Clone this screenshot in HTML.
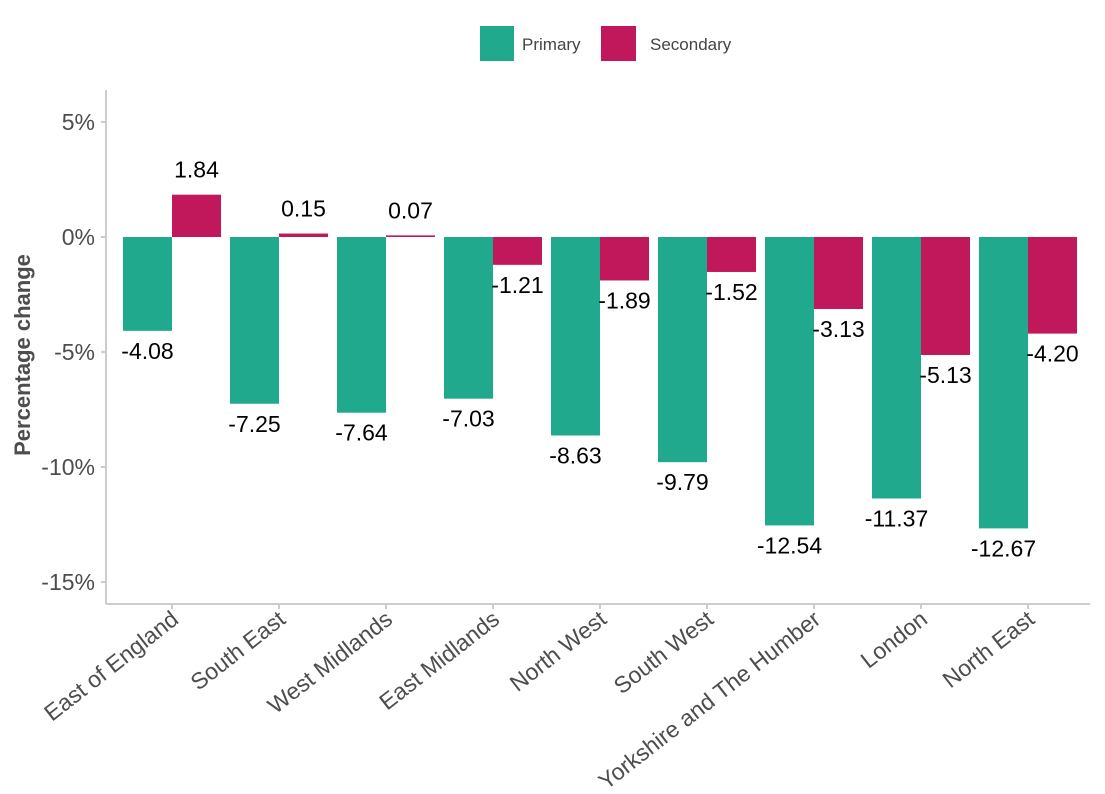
<!DOCTYPE html>
<html><head><meta charset="utf-8"><style>
body{margin:0;background:#fff;}
svg text{font-family:"Liberation Sans",Arial,sans-serif;}
</style></head><body>
<svg id="chart" width="1105" height="789" xmlns="http://www.w3.org/2000/svg">
<g>
<rect x="480" y="26" width="34" height="35" fill="#20a98d"/>
<text x="522" y="50" font-size="17" fill="#444">Primary</text>
<rect x="601" y="26" width="35" height="35" fill="#c0185a"/>
<text x="650" y="50" font-size="17" fill="#444">Secondary</text>
</g>
<text transform="translate(30,355) rotate(-90)" text-anchor="middle" font-size="22" font-weight="bold" fill="#4d4d4d">Percentage change</text>
<g id="axes"></g>
<g id="bars"></g>
</svg>
<script>
const categories=["East of England","South East","West Midlands","East Midlands","North West","South West","Yorkshire and The Humber","London","North East"];
const primary=[-4.08,-7.25,-7.64,-7.03,-8.63,-9.79,-12.54,-11.37,-12.67];
const secondary=[1.84,0.15,0.07,-1.21,-1.89,-1.52,-3.13,-5.13,-4.20];
const yTicks=[5,0,-5,-10,-15];
const yTickLabels=["5%","0%","-5%","-10%","-15%"];
const NS="http://www.w3.org/2000/svg";
const y=v=>237-v*23;
const xc=i=>172+i*107;
const bw=49;
const axes=document.getElementById('axes'), bars=document.getElementById('bars');
function mk(tag,attrs,parent,txt){const e=document.createElementNS(NS,tag);for(const k in attrs)e.setAttribute(k,attrs[k]);if(txt!==undefined)e.textContent=txt;parent.appendChild(e);return e;}
let l=mk('line',{x1:106,y1:90,x2:106,y2:604,stroke:'#ccc','stroke-width':2},axes);


l=mk('line',{x1:106,y1:604,x2:1090,y2:604,stroke:'#ccc','stroke-width':2},axes);


yTicks.forEach((v,i)=>{
 const t=mk('line',{x1:101,x2:106,y1:y(v),y2:y(v),stroke:'#ccc','stroke-width':2},axes);
 
 
 const tx=mk('text',{x:95,y:y(v)+8,'text-anchor':'end','font-size':23,fill:'#4d4d4d'},axes,yTickLabels[i]);
 
 
});
categories.forEach((c,i)=>{
 const cx=xc(i);
 const t=mk('line',{x1:cx,x2:cx,y1:604,y2:609,stroke:'#ccc','stroke-width':2},axes);
 
 
 const tx=mk('text',{transform:`translate(${cx+8},${622}) rotate(-38)`,'text-anchor':'end','font-size':23,fill:'#4d4d4d'},axes,c);
 
 
 [[primary[i],cx-bw,'#20a98d','primary'],[secondary[i],cx,'#c0185a','secondary']].forEach(([v,bx,col,nm])=>{
  const top=Math.min(y(v),y(0)),h=Math.max(Math.abs(y(v)-y(0)),1);
  const r=mk('rect',{x:bx,y:top,width:bw,height:h,fill:col},bars);
  
  
  const ly=v>=0?y(v)-17:y(v)+28;
  const lt=mk('text',{x:bx+bw/2,y:ly,'text-anchor':'middle','font-size':23,fill:'#000'},bars,v.toFixed(2));
  
  
 });
});
</script>
</body></html>
